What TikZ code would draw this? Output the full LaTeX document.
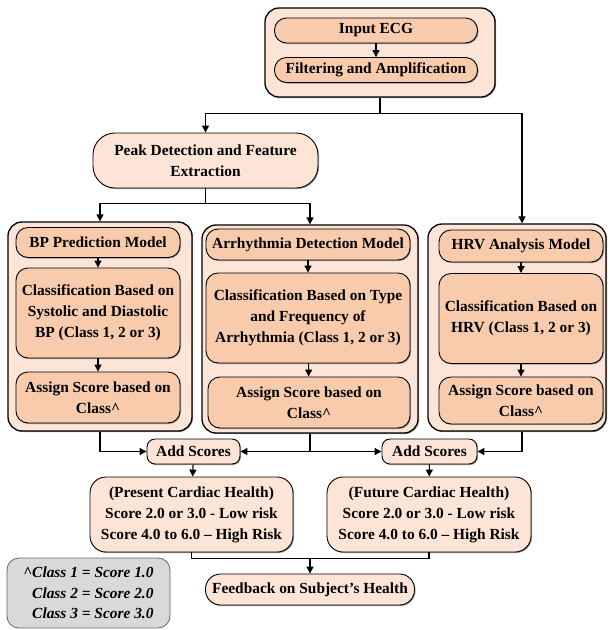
\documentclass[tikz,border=0pt]{standalone}
\usepackage{fontspec}
\setmainfont{Liberation Serif}
\usetikzlibrary{arrows.meta,shadows}

\definecolor{peachlt}{HTML}{FCE4D6}
\definecolor{peachdk}{HTML}{F8CBAD}
\definecolor{notegray}{HTML}{D9D9D9}

\tikzset{
  bx/.style 2 args={minimum width=#1pt, minimum height=#2pt},
  shd/.style={drop shadow={shadow xshift=1pt, shadow yshift=-1pt, fill=black!40, opacity=1}},
  grp/.style={draw, line width=1.3pt, rounded corners=14pt, fill=peachlt, shd, inner sep=0pt},
  blk/.style={draw, line width=0.9pt, rounded corners=12pt, fill=peachdk, shd, align=center,
    inner sep=0pt, font=\fontsize{15.4}{21}\selectfont\bfseries},
  lbox/.style={blk, fill=peachlt},
  note/.style={draw=black!60, line width=0.8pt, rounded corners=12pt, fill=notegray, align=right,
    inner sep=0pt, font=\fontsize{15.4}{20.5}\selectfont\bfseries\itshape},
  link/.style={line width=1.1pt},
}

\begin{document}
\begin{tikzpicture}[x=1pt,y=-1pt,>={Triangle[length=7pt,width=7pt]}]
	\useasboundingbox (0,0) rectangle (610,630);
	% top group
	\node[grp, bx={230}{89}] (topgrp) at (380,52.5) {};
	\node[blk, bx={203}{25}] (input) at (376,30.5) {Input ECG};
	\node[blk, bx={203}{25}] (filt) at (376,70) {Filtering and Amplification};
	\draw[link,->] (input) -- (filt);
	\node[lbox, bx={225}{55}, rounded corners=22pt] (peak) at (205.5,160.5) {Peak Detection and Feature\\Extraction};
	% BP model
	\node[grp, bx={184}{209}] (bpgrp) at (100,326.5) {};
	\node[blk, bx={164}{30}] (bp) at (98,242.5) {BP Prediction Model};
	\node[blk, bx={164}{90}] (bpcls) at (98,313) {Classification Based on\\Systolic and Diastolic\\BP (Class 1, 2 or 3)};
	\node[blk, bx={164}{51}] (bpscore) at (98,397.5) {Assign Score based on\\Class\textasciicircum};
	\draw[link,->] (bp) -- (bpcls);
	\draw[link,->] (bpcls) -- (bpscore);
	% arrhythmia model
	\node[grp, bx={216}{208}] (argrp) at (310,329) {};
	\node[blk, bx={204}{31}] (ar) at (308,244.5) {Arrhythmia Detection Model};
	\node[blk, bx={204}{90}] (arcls) at (308,318) {Classification Based on Type\\and Frequency of\\Arrhythmia (Class 1, 2 or 3)};
	\node[blk, bx={202}{51}] (arscore) at (309,402.5) {Assign Score based on\\Class\textasciicircum};
	\draw[link,->] (ar) -- (arcls);
	\draw[link,->] (arcls) -- (arscore);
	% HRV model
	\node[grp, bx={178}{207}] (hrvgrp) at (517,327.5) {};
	\node[blk, bx={164}{32}] (hrv) at (521,246) {HRV Analysis Model};
	\node[blk, bx={164}{90}] (hrvcls) at (521,318.5) {Classification Based on\\HRV (Class 1, 2 or 3)};
	\node[blk, bx={164}{47}] (hrvscore) at (521,400.5) {Assign Score based on\\Class\textasciicircum};
	\draw[link,->] (hrv) -- (hrvcls);
	\draw[link,->] (hrvcls) -- (hrvscore);
	% scores
	\node[lbox, bx={93}{25}, rounded corners=8pt] (add1) at (193.5,451.5) {Add Scores};
	\node[lbox, bx={95}{25}, rounded corners=8pt] (add2) at (429.5,451.5) {Add Scores};
	\node[lbox, bx={203}{75}, rounded corners=16pt] (present) at (191.5,514.5) {(Present Cardiac Health)\\Score 2.0 or 3.0 - Low risk\\Score 4.0 to 6.0 -- High Risk};
	\node[lbox, bx={204}{75}, rounded corners=16pt] (future) at (429,514.5) {(Future Cardiac Health)\\Score 2.0 or 3.0 - Low risk\\Score 4.0 to 6.0 -- High Risk};
	\node[lbox, bx={209}{31}, rounded corners=15pt] (feedback) at (310,589.5) {Feedback on Subject’s Health};
	\node[note, bx={163}{70}] (legend) at (88.5,593) {\textasciicircum Class 1 = Score 1.0\\Class 2 = Score 2.0\\Class 3 = Score 3.0};
	% connectors
	\draw[link] (topgrp.south) -- ++(0,16) coordinate (tsplit);
	\draw[link,->] (tsplit) -| (peak.north);
	\draw[link,->] (tsplit) -| ([xshift=5pt]hrvgrp.north);
	\draw[link] (peak.south) -- ++(0,15) coordinate (psplit);
	\draw[link,->] (psplit) -| (bpgrp.north);
	\draw[link,->] (psplit) -| (argrp.north);
	\draw[link,->] (bpgrp.south) |- (add1.west);
	\draw[link,->] (argrp.south) |- (add1.east);
	\draw[link,->] (argrp.south) |- (add2.west);
	\draw[link,->] ([xshift=5pt]hrvgrp.south) |- (add2.east);
	\draw[link,->] (add1) -- (present);
	\draw[link,->] (add2) -- (future);
	\draw[link] (present.south) -- ++(0,6) -| (future.south);
	\draw[link,->] (feedback.north |- present.south) ++(0,6) -- (feedback.north);
\end{tikzpicture}
\end{document}
